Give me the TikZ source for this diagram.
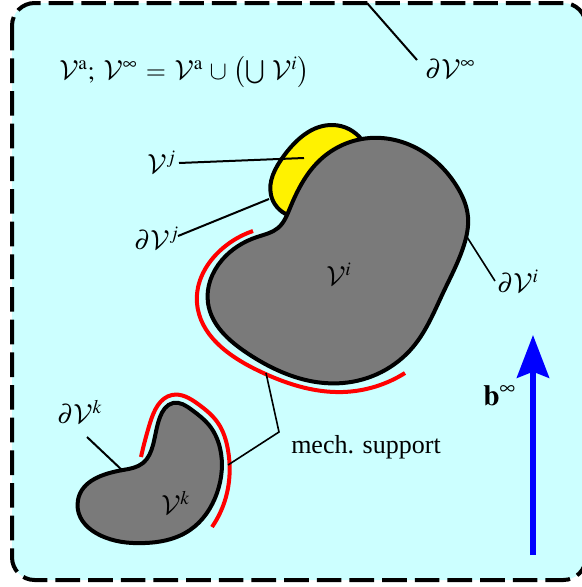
\documentclass[tikz,border=0pt]{standalone}
\usepackage{mathptmx}
\DeclareMathAlphabet{\mathcal}{OMS}{cmsy}{m}{n}
\usepackage{fontspec}
\setmainfont{Liberation Serif}
\usetikzlibrary{arrows.meta,hobby}
\definecolor{bgc}{RGB}{204,255,255}
\definecolor{bodyg}{RGB}{122,122,122}
\tikzset{
  lbl/.style={inner sep=0pt,font=\fontsize{19.5pt}{22pt}\selectfont},
  body/.style={draw=black,line width=3pt,line join=round},
  redline/.style={draw=red,line width=3pt},
  leader/.style={draw=black,line width=1.5pt},
  thinleader/.style={draw=black,line width=1.2pt}
}
\newcommand{\Vc}{\mathcal{V}}
\begin{document}
\begin{tikzpicture}[x=0.75pt,y=-0.75pt,use Hobby shortcut]
\useasboundingbox (0,0) rectangle (582,587);
\begin{scope}
\clip (0,0) rectangle (582,587);
\path[fill=bgc,draw=black,line width=3pt,dash pattern=on 18.5pt off 6pt,rounded corners=17pt] (12,3) rectangle (586,580);
\end{scope}
% yellow body
\path[body,fill=yellow] (288,215) .. (271,195) .. (283,157) .. (333,125) .. (362,140) -- (330,170) -- cycle;
% grey bodies
\path[body,fill=bodyg] ([closed]370,138) .. (420,150) .. (456,185) .. (468,217) .. (464,245) .. (443,293) .. (413,347) .. (343,383) .. (247,353) .. (208,303) .. (222,260) .. (257,237) .. (278,228) .. (290,208) .. (320,160);
\path[body,fill=bodyg] ([closed]173,403) .. (192,410) .. (209,425) .. (220,448) .. (217,493) .. (190,530) .. (133,543) .. (78,500) .. (123,470) .. (143,463) .. (153,445) .. (160,417);
% red supports
\path[redline] (253,231) .. (223,248) .. (197,303) .. (257,370) .. (343,392) .. (405,373);
\path[redline] (141,457) .. (150,423) .. (172,395) .. (198,404) .. (218,423) .. (228,450) .. (227,493) .. (212,527);
% labels
\node[lbl,anchor=base west] (form) at (59,79) {$\Vc^{\mathrm{a}};\;\Vc^{\infty}\mskip 2mu=\mskip 2mu\Vc^{\mathrm{a}}\mskip 2mu\cup\mskip 2mu\left(\bigcup\mskip 3mu\Vc^{i}\right)$};
\node[lbl,anchor=base west] (Vinf) at (425,78) {$\partial\Vc^{\infty}$};
\node[lbl,anchor=base west] (Vj) at (147,173) {$\Vc^{j}$};
\node[lbl,anchor=base west] (dVj) at (134,249) {$\partial\Vc^{j}$};
\node[lbl,anchor=base west] (Vi) at (326,285) {$\Vc^{i}$};
\node[lbl,anchor=base west] (dVi) at (497,292) {$\partial\Vc^{i}$};
\node[lbl,anchor=base west] (dVk) at (57,423) {$\partial\Vc^{k}$};
\node[lbl,anchor=base west] (Vk) at (161,514) {$\Vc^{k}$};
\node[lbl,anchor=base west] (mech) at (291,453) {mech. support};
\node[lbl,anchor=base west,font=\fontsize{22pt}{24pt}\selectfont] (binf) at (483,405) {$\mathbf{b}^{\infty}$};
% leaders
\coordinate (a1) at (367,3);
\coordinate (a2) at (417,60);
\draw[leader] (a1) -- (a2);
\coordinate (b1) at (467,237);
\coordinate (b2) at (495,281);
\draw[thinleader] (b1) -- (b2);
\coordinate (c1) at (179,163);
\coordinate (c2) at (304,158);
\draw[leader] (c1) -- (c2);
\coordinate (d1) at (178,236);
\coordinate (d2) at (269,199);
\draw[leader] (d1) -- (d2);
\coordinate (e1) at (87,437);
\coordinate (e2) at (123,471);
\draw[leader] (e1) -- (e2);
\coordinate (f1) at (266,373);
\coordinate (f2) at (279,432);
\coordinate (f3) at (228,465);
\draw[thinleader] (f1) -- (f2) -- (f3);
% gravity arrow
\coordinate (g1) at (533,555);
\coordinate (g2) at (533,335);
\draw[blue,line width=4.5pt,-{Stealth[length=32pt,width=24pt,inset=4.5pt]}] (g1) -- (g2);
\end{tikzpicture}
\end{document}
